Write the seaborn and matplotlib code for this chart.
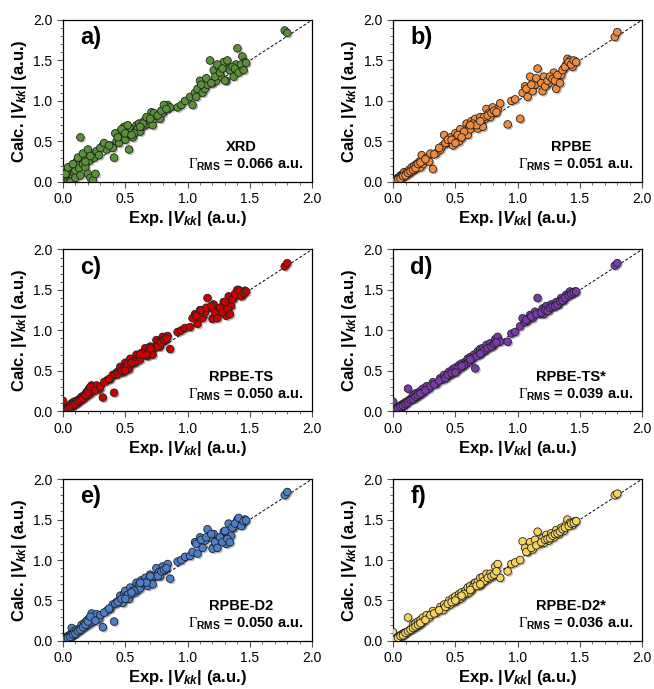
import numpy as np
import pandas as pd
import matplotlib
matplotlib.use('Agg')
import matplotlib.pyplot as plt
import matplotlib.patheffects as pe
from matplotlib.ticker import MultipleLocator
import seaborn as sns

# experimental |Vkk| (shared by all panels)
exp_vkk = [0.00, 0.01, 0.01, 0.02, 0.02, 0.03, 0.03, 0.04, 0.04, 0.05, 0.05, 0.06, 0.06, 0.07, 0.07, 0.08, 0.08, 0.09, 0.09, 0.10,
           0.11, 0.12, 0.13, 0.14, 0.15, 0.16, 0.17, 0.18, 0.19, 0.20, 0.21, 0.22, 0.23, 0.24, 0.25, 0.27, 0.29, 0.32,
           0.35, 0.38, 0.40, 0.41, 0.43, 0.45, 0.46, 0.48, 0.49, 0.50, 0.51, 0.53, 0.54, 0.55, 0.56, 0.58, 0.59, 0.60,
           0.61, 0.62, 0.63, 0.65, 0.66, 0.68, 0.69, 0.70, 0.71, 0.72, 0.74, 0.75, 0.77, 0.78, 0.80, 0.82, 0.84, 0.86,
           0.92, 0.95, 0.98, 1.02, 1.04,
           1.06, 1.08, 1.10, 1.12, 1.14, 1.16, 1.18, 1.20, 1.21, 1.23, 1.25, 1.27, 1.29, 1.31, 1.33, 1.35, 1.37, 1.39, 1.40, 1.42, 1.44, 1.46,
           1.78, 1.80,
           0.02, 0.04, 0.06, 0.08, 0.10, 0.12, 0.14, 0.16, 0.18, 0.20, 0.22, 0.26,
           0.30, 0.33, 0.37, 0.42, 0.44, 0.47, 0.52, 0.57, 0.64, 0.67, 0.73, 0.76, 0.79, 0.81, 0.83,
           1.07, 1.11, 1.15, 1.19, 1.22, 1.24, 1.26, 1.28, 1.30, 1.32, 1.34, 1.36, 1.38, 1.41, 1.43, 1.45, 1.47,
           0.62, 0.70, 0.50, 0.55]

calc_xrd = [0.15, 0.02, 0.08, 0.00, 0.12, 0.05, 0.10, 0.03, 0.14, 0.06, 0.18, 0.02, 0.10, 0.13, 0.20, 0.07, 0.16, 0.11, 0.22, 0.14,
            0.25, 0.20, 0.17, 0.55, 0.28, 0.22, 0.30, 0.18, 0.33, 0.10, 0.26, 0.05, 0.35, 0.02, 0.30, 0.38, 0.33, 0.45,
            0.40, 0.45, 0.42, 0.30, 0.50, 0.48, 0.62, 0.55, 0.68, 0.52, 0.60, 0.40, 0.58, 0.65, 0.55, 0.62, 0.70, 0.66,
            0.72, 0.62, 0.68, 0.75, 0.70, 0.72, 0.80, 0.75, 0.86, 0.70, 0.78, 0.82, 0.80, 0.78, 0.85, 0.90, 0.95, 0.92,
            0.92, 0.95, 1.00, 1.05, 0.95,
            1.10, 1.15, 1.25, 1.10, 1.15, 1.20, 1.50, 1.22, 1.38, 1.25, 1.42, 1.30, 1.48, 1.25, 1.40, 1.38, 1.30, 1.45, 1.65, 1.40, 1.55, 1.48,
            1.87, 1.84,
            0.10, 0.18, 0.00, 0.22, 0.05, 0.30, 0.08, 0.35, 0.25, 0.40, 0.32, 0.10,
            0.42, 0.48, 0.45, 0.60, 0.55, 0.65, 0.70, 0.60, 0.72, 0.80, 0.85, 0.82, 0.88, 0.95, 0.90,
            1.05, 1.20, 1.28, 1.22, 1.30, 1.45, 1.35, 1.40, 1.25, 1.50, 1.38, 1.42, 1.40, 1.35, 1.45, 1.38, 1.47,
            0.68, 0.78, 0.60, 0.58]

calc_rpbe = [0.00, 0.01, 0.02, 0.02, 0.03, 0.02, 0.04, 0.03, 0.05, 0.04, 0.06, 0.05, 0.08, 0.06, 0.08, 0.07, 0.10, 0.08, 0.12, 0.09,
             0.12, 0.10, 0.15, 0.12, 0.18, 0.15, 0.20, 0.16, 0.22, 0.20, 0.25, 0.18, 0.33, 0.22, 0.26, 0.30, 0.25, 0.16,
             0.36, 0.40, 0.45, 0.58, 0.48, 0.50, 0.55, 0.45, 0.52, 0.60, 0.55, 0.50, 0.65, 0.55, 0.60, 0.62, 0.72, 0.58,
             0.68, 0.65, 0.75, 0.70, 0.78, 0.66, 0.72, 0.80, 0.75, 0.68, 0.78, 0.90, 0.85, 0.80, 0.92, 0.85, 0.90, 0.97,
             0.71, 1.00, 1.02, 0.78, 1.10,
             1.18, 1.05, 1.30, 1.12, 1.20, 1.40, 1.25, 1.12, 1.30, 1.20, 1.22, 1.28, 1.35, 1.15, 1.30, 1.32, 1.40, 1.45, 1.52, 1.50, 1.42, 1.49,
             1.79, 1.85,
             0.01, 0.03, 0.04, 0.07, 0.08, 0.11, 0.13, 0.15, 0.17, 0.22, 0.24, 0.28,
             0.35, 0.34, 0.42, 0.48, 0.52, 0.52, 0.58, 0.62, 0.72, 0.70, 0.80, 0.82, 0.85, 0.88, 0.86,
             1.15, 1.20, 1.28, 1.22, 1.18, 1.25, 1.30, 1.27, 1.25, 1.32, 1.22, 1.38, 1.42, 1.48, 1.45, 1.50, 1.48,
             0.70, 0.75, 0.48, 0.55]

calc_rpbe_ts = [0.13, 0.01, 0.02, 0.03, 0.02, 0.04, 0.03, 0.05, 0.04, 0.06, 0.05, 0.07, 0.08, 0.06, 0.10, 0.08, 0.10, 0.09, 0.12, 0.10,
                0.13, 0.11, 0.15, 0.14, 0.18, 0.16, 0.20, 0.18, 0.24, 0.20, 0.28, 0.22, 0.32, 0.25, 0.28, 0.32, 0.27, 0.17,
                0.38, 0.40, 0.45, 0.23, 0.48, 0.50, 0.55, 0.48, 0.55, 0.60, 0.56, 0.52, 0.65, 0.58, 0.62, 0.60, 0.70, 0.63,
                0.68, 0.64, 0.72, 0.70, 0.78, 0.68, 0.75, 0.80, 0.76, 0.70, 0.80, 0.88, 0.85, 0.80, 0.92, 0.88, 0.93, 0.77,
                0.98, 1.00, 1.03, 1.04, 1.15,
                1.20, 1.08, 1.25, 1.15, 1.22, 1.40, 1.28, 1.14, 1.32, 1.20, 1.25, 1.28, 1.35, 1.18, 1.42, 1.30, 1.40, 1.45, 1.50, 1.47, 1.44, 1.49,
                1.79, 1.83,
                0.02, 0.03, 0.05, 0.08, 0.09, 0.12, 0.14, 0.16, 0.20, 0.24, 0.30, 0.26,
                0.30, 0.36, 0.40, 0.45, 0.46, 0.50, 0.58, 0.62, 0.72, 0.70, 0.78, 0.80, 0.85, 0.88, 0.90,
                1.18, 1.25, 1.28, 1.30, 1.22, 1.15, 1.28, 1.22, 1.35, 1.26, 1.20, 1.38, 1.45, 1.50, 1.42, 1.46, 1.48,
                0.70, 0.78, 0.50, 0.60]

calc_rpbe_ts_star = [0.12, 0.01, 0.02, 0.02, 0.03, 0.03, 0.04, 0.04, 0.05, 0.05, 0.06, 0.06, 0.07, 0.08, 0.07, 0.09, 0.08, 0.10, 0.09, 0.11,
                     0.12, 0.28, 0.14, 0.15, 0.16, 0.20, 0.16, 0.22, 0.18, 0.23, 0.20, 0.25, 0.22, 0.28, 0.24, 0.31, 0.28, 0.36,
                     0.34, 0.41, 0.39, 0.45, 0.42, 0.49, 0.45, 0.52, 0.48, 0.54, 0.50, 0.57, 0.53, 0.59, 0.56, 0.61, 0.59, 0.65,
                     0.61, 0.67, 0.64, 0.70, 0.53, 0.74, 0.70, 0.77, 0.72, 0.78, 0.75, 0.82, 0.79, 0.84, 0.81, 0.89, 0.92, 0.86,
                     0.86, 0.96, 0.98, 1.05, 1.15,
                     1.10, 1.12, 1.19, 1.15, 1.23, 1.40, 1.20, 1.27, 1.20, 1.30, 1.25, 1.32, 1.29, 1.35, 1.32, 1.40, 1.37, 1.44, 1.42, 1.48, 1.45, 1.48,
                     1.80, 1.83,
                     0.02, 0.04, 0.06, 0.07, 0.09, 0.11, 0.14, 0.15, 0.18, 0.20, 0.22, 0.26,
                     0.31, 0.33, 0.38, 0.41, 0.45, 0.47, 0.53, 0.57, 0.66, 0.68, 0.75, 0.78, 0.80, 0.83, 0.85,
                     1.13, 1.17, 1.20, 1.22, 1.25, 1.24, 1.28, 1.30, 1.30, 1.32, 1.36, 1.37, 1.40, 1.43, 1.45, 1.47, 1.48,
                     0.64, 0.71, 0.48, 0.56]

calc_rpbe_d2 = [0.02, 0.01, 0.03, 0.02, 0.04, 0.03, 0.05, 0.04, 0.06, 0.05, 0.07, 0.06, 0.08, 0.07, 0.16, 0.08, 0.10, 0.09, 0.12, 0.10,
                0.14, 0.12, 0.15, 0.14, 0.20, 0.16, 0.22, 0.18, 0.25, 0.20, 0.28, 0.22, 0.34, 0.24, 0.28, 0.33, 0.27, 0.17,
                0.37, 0.40, 0.45, 0.24, 0.48, 0.50, 0.56, 0.47, 0.58, 0.62, 0.55, 0.52, 0.66, 0.58, 0.62, 0.60, 0.72, 0.63,
                0.70, 0.65, 0.75, 0.70, 0.78, 0.68, 0.76, 0.82, 0.78, 0.70, 0.80, 0.90, 0.85, 0.80, 0.92, 0.88, 0.95, 0.77,
                0.98, 1.00, 1.04, 1.05, 1.10,
                1.22, 1.08, 1.28, 1.15, 1.24, 1.38, 1.28, 1.14, 1.32, 1.20, 1.26, 1.28, 1.35, 1.20, 1.45, 1.30, 1.40, 1.45, 1.50, 1.48, 1.44, 1.50,
                1.80, 1.84,
                0.02, 0.04, 0.05, 0.08, 0.09, 0.12, 0.14, 0.17, 0.20, 0.24, 0.30, 0.25,
                0.32, 0.35, 0.40, 0.46, 0.48, 0.52, 0.57, 0.62, 0.72, 0.72, 0.80, 0.80, 0.86, 0.88, 0.90,
                1.20, 1.25, 1.28, 1.32, 1.22, 1.15, 1.28, 1.22, 1.36, 1.26, 1.22, 1.40, 1.45, 1.52, 1.42, 1.48, 1.49,
                0.72, 0.80, 0.52, 0.60]

calc_rpbe_d2_star = [0.11, 0.01, 0.02, 0.02, 0.03, 0.03, 0.04, 0.04, 0.05, 0.05, 0.06, 0.06, 0.07, 0.07, 0.08, 0.08, 0.09, 0.09, 0.10, 0.10,
                     0.11, 0.29, 0.13, 0.14, 0.15, 0.20, 0.16, 0.22, 0.18, 0.24, 0.20, 0.26, 0.22, 0.29, 0.25, 0.32, 0.29, 0.37,
                     0.35, 0.42, 0.38, 0.45, 0.43, 0.50, 0.45, 0.53, 0.48, 0.55, 0.50, 0.58, 0.52, 0.60, 0.55, 0.62, 0.58, 0.66,
                     0.60, 0.68, 0.63, 0.71, 0.72, 0.73, 0.68, 0.78, 0.70, 0.79, 0.74, 0.83, 0.77, 0.83, 0.80, 0.92, 0.95, 0.78,
                     0.86, 0.95, 0.97, 1.00, 1.23,
                     1.15, 1.10, 1.22, 1.13, 1.25, 1.35, 1.20, 1.27, 1.21, 1.31, 1.24, 1.33, 1.28, 1.37, 1.32, 1.40, 1.36, 1.44, 1.50, 1.46, 1.43, 1.48,
                     1.80, 1.82,
                     0.02, 0.04, 0.06, 0.07, 0.10, 0.12, 0.14, 0.16, 0.18, 0.20, 0.22, 0.26,
                     0.32, 0.34, 0.38, 0.42, 0.46, 0.48, 0.53, 0.58, 0.66, 0.68, 0.74, 0.78, 0.80, 0.82, 0.86,
                     1.10, 1.15, 1.18, 1.22, 1.25, 1.26, 1.27, 1.30, 1.32, 1.33, 1.35, 1.38, 1.40, 1.42, 1.45, 1.46, 1.48,
                     0.63, 0.70, 0.50, 0.56]

panel_letters = ['a)', 'b)', 'c)', 'd)', 'e)', 'f)']
method_names = ['XRD', 'RPBE', 'RPBE-TS', 'RPBE-TS*', 'RPBE-D2', 'RPBE-D2*']
gamma_rms = ['0.066', '0.051', '0.050', '0.039', '0.050', '0.036']
fill_colors = ['#5A9038', '#F08A3C', '#CC0000', '#7A3AAE', '#4C7FCB', '#F7D35C']
calc_series = [calc_xrd, calc_rpbe, calc_rpbe_ts, calc_rpbe_ts_star, calc_rpbe_d2, calc_rpbe_d2_star]

sns.set_style('ticks')
plt.rcParams['font.family'] = ['Liberation Sans', 'DejaVu Sans']
plt.rcParams['text.color'] = 'black'
plt.rcParams['axes.labelcolor'] = 'black'
plt.rcParams['mathtext.fontset'] = 'custom'
plt.rcParams['mathtext.rm'] = 'Liberation Serif'
plt.rcParams['mathtext.bf'] = 'Liberation Sans:bold'
plt.rcParams['mathtext.it'] = 'Liberation Sans:bold:italic'

fig = plt.figure(figsize=(6.54, 6.89), dpi=100)
lefts = [0.0963, 0.601]
bottoms = [0.736, 0.403, 0.0697]

for i, (calc, color) in enumerate(zip(calc_series, fill_colors)):
    ax = fig.add_axes([lefts[i % 2], bottoms[i // 2], 0.381, 0.235])
    df = pd.DataFrame({'exp': exp_vkk, 'calc': calc})
    ax.plot([0, 2], [0, 2], ls=(0, (3, 2)), color='black', lw=0.7, zorder=1)
    sns.scatterplot(data=df, x='exp', y='calc', ax=ax, color=color,
                    edgecolor='#222222', linewidth=0.6, s=30, zorder=3, legend=False)
    for coll in ax.collections:
        coll.set_path_effects([pe.SimplePatchShadow(offset=(1.2, -1.2), alpha=0.3), pe.Normal()])

    ax.set_xlim(0, 2)
    ax.set_ylim(0, 2)
    ax.xaxis.set_major_locator(MultipleLocator(0.5))
    ax.yaxis.set_major_locator(MultipleLocator(0.5))
    ax.xaxis.set_minor_locator(MultipleLocator(0.1))
    ax.yaxis.set_minor_locator(MultipleLocator(0.1))
    ax.xaxis.set_major_formatter(plt.FormatStrFormatter('%.1f'))
    ax.yaxis.set_major_formatter(plt.FormatStrFormatter('%.1f'))
    ax.tick_params(which='major', length=4, width=0.8, labelsize=10, direction='out',
                   color='#555555', labelcolor='black')
    ax.tick_params(which='minor', length=2.5, width=0.6, direction='out', color='#555555')
    for sp in ax.spines.values():
        sp.set_visible(True)
        sp.set_linewidth(0.9)
        sp.set_color('black')

    ax.set_xlabel(r'Exp. |$V_{kk}$| (a.u.)', fontsize=12, fontweight='bold', labelpad=2)
    ax.set_ylabel(r'Calc. |$V_{kk}$| (a.u.)', fontsize=12, fontweight='bold', labelpad=3)

    ax.text(0.14, 1.78, panel_letters[i], fontsize=17, fontweight='bold', va='center', ha='left')
    ax.text(1.43, 0.43, method_names[i], fontsize=10.5, fontweight='bold', va='center', ha='center')
    ax.text(1.93, 0.21, r'$\Gamma_{\mathbf{RMS}}$' + f' = {gamma_rms[i]} a.u.', fontsize=10.5,
            fontweight='bold', va='center', ha='right')

fig.savefig('out.png', dpi=100)
